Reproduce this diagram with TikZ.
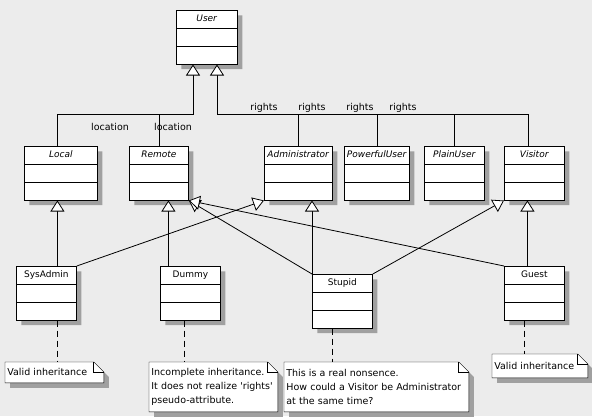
\documentclass[tikz,border=0pt]{standalone}
\usepackage{fontspec}
\setmainfont{DejaVu Sans}
\usetikzlibrary{arrows.meta,shapes.multipart,shadows,backgrounds}
\definecolor{canvas}{RGB}{236,236,236}
\definecolor{shade}{RGB}{160,160,160}
\begin{document}
\begin{tikzpicture}[x=1pt,y=-1pt,line width=0.8pt,
        umlclass/.style={draw,fill=white,rectangle split,rectangle split parts=3,
          minimum width=#1,inner xsep=0.5pt,inner ysep=3.8pt,
          text height=7pt,text depth=2.5pt,
          rectangle split empty part height=7pt,rectangle split empty part depth=2.5pt,
          font=\fontsize{9}{11}\selectfont,anchor=north west,
          drop shadow={shadow xshift=5pt,shadow yshift=-5pt,fill=shade,opacity=1}},
        umlclass/.default=60,
        inh/.style={-{Triangle[width=14pt,length=11pt,fill=white]}},
        dep/.style={dash pattern=on 6pt off 4pt},
        notebox/.style={anchor=north west,inner xsep=2pt,inner ysep=0pt,align=left,
          font=\fontsize{9.5}{14}\selectfont},
        lbl/.style={font=\fontsize{9.5}{11}\selectfont,inner sep=0pt}]
        \useasboundingbox (0,0) rectangle (592,416);
        % classes
        \node[umlclass=61] (user) at (176,10) {\textit{User}};
        \node[umlclass=73] (local) at (24,146) {\textit{Local}};
        \node[umlclass=59] (remote) at (129,146) {\textit{Remote}};
        \node[umlclass=68] (admin) at (264,146) {\textit{Administrator}};
        \node[umlclass=65] (powerful) at (344,146) {\textit{PowerfulUser}};
        \node[umlclass] (plain) at (424,146) {\textit{PlainUser}};
        \node[umlclass] (visitor) at (504,146) {\textit{Visitor}};
        \node[umlclass] (sysadmin) at (16,266) {SysAdmin};
        \node[umlclass] (dummy) at (160,266) {Dummy};
        \node[umlclass] (stupid) at (312,274) {Stupid};
        \node[umlclass] (guest) at (504,266) {Guest};
        % notes
        \node[notebox,text width=94pt,minimum height=20pt] (n1) at (5,362) {Valid inheritance};
        \node[notebox,text width=124pt,minimum height=49pt] (n2) at (149,362)
          {Incomplete inheritance.\\It does not realize \textquotesingle rights\textquotesingle\\pseudo-attribute.};
        \node[notebox,text width=180pt,minimum height=49pt] (n3) at (284,362)
          {This is a real nonsence.\\How could a Visitor be Administrator\\at the same time?};
        \node[notebox,text width=91pt,minimum height=23pt] (n4) at (492,354) {Valid inheritance};
        \begin{scope}[on background layer]
          \fill[canvas] (0,0) rectangle (592,416);
          \foreach \n in {n1,n2,n3,n4}
            \draw[fill=white,drop shadow={shadow xshift=5pt,shadow yshift=-5pt,fill=shade,opacity=1}]
              (\n.south west) -- (\n.north west) -- ([xshift=-10]\n.north east)
              -- ([yshift=-10]\n.north east) -- (\n.south east) -- cycle;
        \end{scope}
        \foreach \n in {n1,n2,n3,n4}
          \draw ([xshift=-10]\n.north east) |- ([yshift=-10]\n.north east);
        % generalisations to User
        \coordinate (loc) at (193,114);
        \coordinate (rgt) at (217,114);
        \draw[inh] ([xshift=-3.5]local.north) |- (loc) -- (loc |- user.south);
        \draw (remote.north) -- (remote.north |- loc);
        \draw[inh] ([xshift=-6]visitor.north) |- (rgt) -- (rgt |- user.south);
        \foreach \c in {admin,powerful,plain}
          \draw (\c.north) -- (\c.north |- rgt);
        \node[lbl] (loc1) at (110,127) {location};
        \node[lbl] (loc2) at (173,127) {location};
        \foreach \x [count=\i] in {264,312,360,403}
          \node[lbl] (r\i) at (\x,107.5) {rights};
        % lower generalisations
        \draw[inh] ([xshift=11]sysadmin.north) -- ([xshift=11]sysadmin.north |- local.south);
        \draw[inh] ([xshift=-22]dummy.north) -- ([xshift=-22]dummy.north |- remote.south);
        \draw[inh] (stupid.north west) -- (stupid.north west |- admin.south);
        \draw[inh] ([xshift=-7]guest.north) -- ([xshift=-7]guest.north |- visitor.south);
        \draw[inh] (sysadmin.north east) -- (admin.south west);
        \draw[inh] (stupid.north west) -- (remote.south east);
        \draw[inh] (stupid.north east) -- (visitor.south west);
        \draw[inh] (guest.north west) -- (remote.south east);
        % note links
        \draw[dep] ([xshift=11]sysadmin.south) -- ([xshift=11]sysadmin.south |- n1.north);
        \draw[dep] ([xshift=-6]dummy.south) -- ([xshift=-6]dummy.south |- n2.north);
        \draw[dep] ([xshift=-10]stupid.south) -- ([xshift=-10]stupid.south |- n3.north);
        \draw[dep] ([xshift=-10]guest.south) -- ([xshift=-10]guest.south |- n4.north);
\end{tikzpicture}
\end{document}
